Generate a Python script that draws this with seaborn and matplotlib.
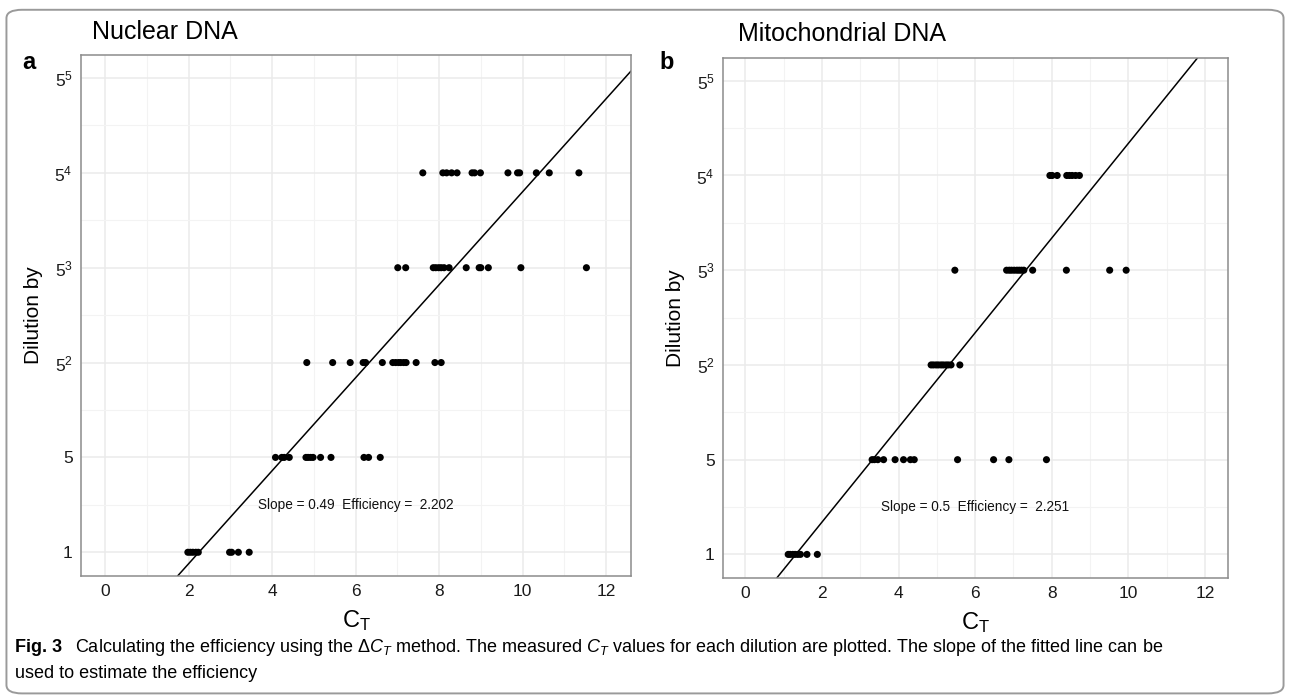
import numpy as np
import pandas as pd
import matplotlib.pyplot as plt
import seaborn as sns
from matplotlib.patches import FancyBboxPatch
from matplotlib.ticker import FixedLocator, FixedFormatter, NullFormatter

# CT values, grouped by dilution factor
dilutions = [1, 5, 25, 125, 625]

nuc_ct = {
    1: [1.98, 2.04, 2.10, 2.17, 2.23, 2.98, 3.03, 3.19, 3.45],
    5: [4.08, 4.23, 4.29, 4.41, 4.81, 4.86, 4.92, 4.98, 5.16, 5.41, 6.20, 6.31, 6.59],
    25: [4.83, 5.45, 5.87, 6.18, 6.24, 6.64, 6.89, 6.96, 7.03, 7.08, 7.15, 7.21,
         7.45, 7.90, 8.05],
    125: [7.01, 7.20, 7.86, 7.92, 7.99, 8.05, 8.12, 8.24, 8.65, 8.96, 9.00, 9.18,
          9.96, 11.53],
    625: [7.61, 8.09, 8.18, 8.30, 8.43, 8.79, 8.85, 8.99, 9.65, 9.88, 9.93, 10.33,
          10.64, 11.35],
}
mito_ct = {
    1: [1.12, 1.17, 1.24, 1.30, 1.37, 1.44, 1.61, 1.88],
    5: [3.31, 3.37, 3.46, 3.61, 3.91, 4.13, 4.31, 4.41, 5.54, 6.48, 6.88, 7.86],
    25: [4.85, 4.91, 4.98, 5.04, 5.11, 5.17, 5.24, 5.30, 5.37, 5.60],
    125: [5.47, 6.82, 6.89, 6.95, 7.02, 7.09, 7.15, 7.21, 7.27, 7.50, 8.38, 9.51, 9.94],
    625: [7.95, 8.01, 8.14, 8.39, 8.46, 8.53, 8.62, 8.72],
}

# fitted lines: log5(dilution) = slope * CT + intercept
nuc_slope, nuc_intercept, nuc_eff = 0.49, -1.10, 2.202
mito_slope, mito_intercept, mito_eff = 0.50, -0.66, 2.251

titles = ['Nuclear DNA', 'Mitochondrial DNA']
panel_tags = ['a', 'b']
ytick_vals = [1, 5, 25, 125, 625, 3125]
ytick_labels = ['1', '5', '$5^2$', '$5^3$', '$5^4$', '$5^5$']
xtick_vals = [0, 2, 4, 6, 8, 10, 12]


def to_frame(d):
    rows = [(ct, dil) for dil, cts in d.items() for ct in cts]
    return pd.DataFrame(rows, columns=['CT', 'Dilution'])


sns.set_style('white')
plt.rcParams['font.family'] = ['Liberation Sans', 'DejaVu Sans']
plt.rcParams['mathtext.fontset'] = 'custom'
plt.rcParams['mathtext.rm'] = 'Liberation Sans'
plt.rcParams['mathtext.it'] = 'Liberation Sans:italic'
plt.rcParams['text.color'] = 'black'
plt.rcParams['axes.labelcolor'] = 'black'

fig = plt.figure(figsize=(12.9, 6.99), dpi=100)

border = FancyBboxPatch((0.005, 0.008), 0.99, 0.978,
                        boxstyle='round,pad=0,rounding_size=0.012',
                        transform=fig.transFigure, fill=False,
                        edgecolor='#9a9a9a', linewidth=1.4)
fig.patches.append(border)

axes_pos = [[0.0628, 0.176, 0.4264, 0.745], [0.5605, 0.173, 0.3915, 0.744]]
panels = [(nuc_ct, nuc_slope, nuc_intercept, nuc_eff, '0.49'),
          (mito_ct, mito_slope, mito_intercept, mito_eff, '0.5')]

for i, (data, slope, icpt, eff, slope_txt) in enumerate(panels):
    ax = fig.add_axes(axes_pos[i])
    df = to_frame(data)
    ax.set_yscale('log', base=5)
    ax.set_xlim(-0.58, 12.6)
    ax.set_ylim(5 ** -0.25, 5 ** 5.24)

    ax.yaxis.set_major_locator(FixedLocator(ytick_vals))
    ax.yaxis.set_major_formatter(FixedFormatter(ytick_labels))
    ax.yaxis.set_minor_locator(FixedLocator([5 ** (k + 0.5) for k in range(-1, 6)]))
    ax.yaxis.set_minor_formatter(NullFormatter())
    ax.xaxis.set_major_locator(FixedLocator(xtick_vals))
    ax.xaxis.set_minor_locator(FixedLocator([1, 3, 5, 7, 9, 11]))

    ax.grid(which='major', color='#ebebeb', linewidth=1.1)
    ax.grid(which='minor', color='#f3f3f3', linewidth=0.8)
    ax.set_axisbelow(True)
    for s in ax.spines.values():
        s.set_color('#8c8c8c')
        s.set_linewidth(1.1)
    ax.tick_params(which='major', length=3, width=0.9, color='#555555',
                   labelsize=12.5, labelcolor='#1a1a1a', pad=3)
    ax.tick_params(which='minor', length=0)

    sns.scatterplot(data=df, x='CT', y='Dilution', ax=ax, color='black',
                    s=26, edgecolor='none', legend=False, zorder=3)

    ax.axline((0, 5 ** icpt), (10, 5 ** (slope * 10 + icpt)),
              color='black', linewidth=1.1, zorder=2)

    ax.text(6, 5 ** 0.5, f'Slope = {slope_txt}  Efficiency =  {eff}',
            ha='center', va='center', fontsize=9.8, color='#111111')

    ax.set_xlabel('$\\mathrm{C}_\\mathrm{T}$', fontsize=17, labelpad=6)
    ax.set_ylabel('Dilution by', fontsize=15, labelpad=8)
    ax.set_title(titles[i], loc='left', fontsize=18, pad=12, color='black',
                 x=0.02 if i == 0 else 0.03)

fig.text(0.017, 0.902, panel_tags[0], fontsize=17, fontweight='bold')
fig.text(0.511, 0.902, panel_tags[1], fontsize=17, fontweight='bold')

cap_font = ['Liberation Sans Narrow', 'Liberation Sans', 'DejaVu Sans']
fig.text(0.012, 0.067, 'Fig. 3', fontsize=13, fontweight='bold', family=cap_font)
fig.text(0.058, 0.067,
         'Calculating the efficiency using the $\\Delta C_T$ method. The measured $C_T$ values '
         'for each dilution are plotted. The slope of the fitted line can be',
         fontsize=13, family=cap_font)
fig.text(0.012, 0.030, 'used to estimate the efficiency', fontsize=13, family=cap_font)

fig.savefig('out.png', dpi=100)
